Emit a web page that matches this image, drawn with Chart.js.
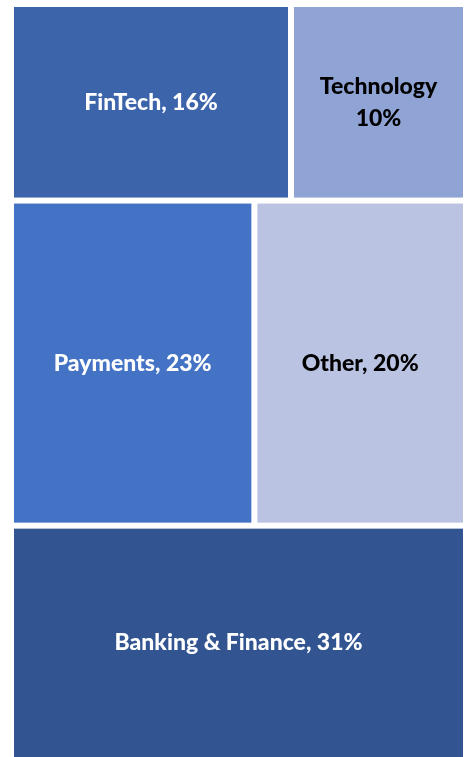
<!DOCTYPE html>
<html>
<head>
<meta charset="utf-8">
<script src="https://cdn.jsdelivr.net/npm/chart.js@4.4.0/dist/chart.umd.min.js"></script>
<style>
  body { margin: 0; background: #ffffff; }
  #wrap { width: 470px; height: 760px; position: relative; }
</style>
</head>
<body>
<div id="wrap"><canvas id="treeChart"></canvas></div>
<script>
// treemap values (percent share), grouped into rows like the original
const categories = ['FinTech', 'Technology', 'Payments', 'Other', 'Banking & Finance'];
const shares = [16, 10, 23, 20, 31];
const rowOf = [0, 0, 1, 1, 2];
const fillColors = ['#3c64aa', '#8fa3d4', '#4472c4', '#bac3e1', '#325591'];
const labelColors = ['#ffffff', '#000000', '#ffffff', '#000000', '#ffffff'];

// build the rectangles in data units (0..100 on both axes)
const rowTotals = [];
rowOf.forEach((r, i) => { rowTotals[r] = (rowTotals[r] || 0) + shares[i]; });
const grandTotal = shares.reduce((a, b) => a + b, 0);

const cells = [];
let rowStart = 0;
rowTotals.forEach((tot, r) => {
  const rowEnd = rowStart + tot / grandTotal * 100;
  let xCum = 0;
  rowOf.forEach((rr, i) => {
    if (rr !== r) return;
    const x0 = xCum / tot * 100;
    xCum += shares[i];
    const x1 = xCum / tot * 100;
    cells.push({ i: i, x0: x0, x1: x1, y0: rowStart, y1: rowEnd });
  });
  rowStart = rowEnd;
});

const gap = 6;

const treemapPlugin = {
  id: 'treemapCells',
  beforeDatasetsDraw(chart) {
    const ctx = chart.ctx;
    const xs = chart.scales.x;
    const ys = chart.scales.y;
    ctx.save();
    cells.forEach(c => {
      const left = xs.getPixelForValue(c.x0) + gap / 2;
      const right = xs.getPixelForValue(c.x1) - gap / 2;
      const top = ys.getPixelForValue(c.y0) + gap / 2;
      const bottom = ys.getPixelForValue(c.y1) - gap / 2;
      ctx.fillStyle = fillColors[c.i];
      ctx.fillRect(left, top, right - left, bottom - top);

      // label, wrapped onto two lines if it doesn't fit
      ctx.font = '900 23px Lato, "Open Sans", sans-serif';
      ctx.fillStyle = labelColors[c.i];
      ctx.textAlign = 'center';
      ctx.textBaseline = 'middle';
      const cx = (left + right) / 2;
      const cy = (top + bottom) / 2;
      const text = categories[c.i] + ', ' + shares[c.i] + '%';
      if (ctx.measureText(text).width > (right - left) - 16) {
        ctx.fillText(categories[c.i], cx, cy - 16);
        ctx.fillText(shares[c.i] + '%', cx, cy + 16);
      } else {
        ctx.fillText(text, cx, cy);
      }
    });
    ctx.restore();
  }
};

new Chart(document.getElementById('treeChart'), {
  type: 'scatter',
  data: { datasets: [{ data: [] }] },
  options: {
    responsive: true,
    maintainAspectRatio: false,
    animation: false,
    layout: { padding: { top: 4, left: 11, right: 4, bottom: 0 } },
    scales: {
      x: { type: 'linear', min: 0, max: 100, display: false },
      y: { type: 'linear', min: 0, max: 100, reverse: true, display: false }
    },
    plugins: {
      legend: { display: false },
      tooltip: { enabled: false }
    }
  },
  plugins: [treemapPlugin]
});
</script>
</body>
</html>
